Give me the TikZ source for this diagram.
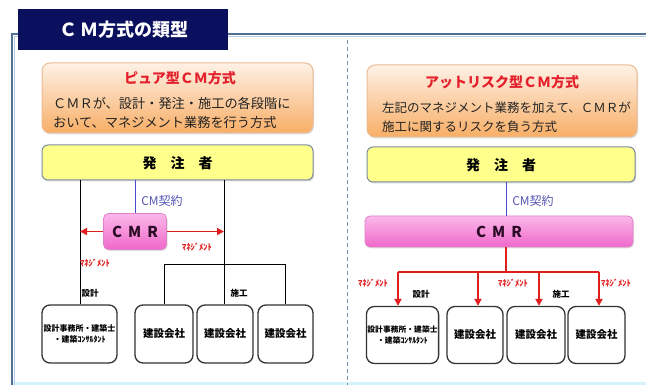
\documentclass[tikz,border=0pt]{standalone}
\usepackage{fontspec}
\setmainfont{Noto Sans CJK JP}
\usetikzlibrary{arrows.meta,shadows}
\definecolor{navy}{HTML}{0A0F5E}
\definecolor{framec}{HTML}{4F6F95}
\definecolor{framel}{HTML}{B8CDE3}
\definecolor{orgtop}{HTML}{FEF1E6}
\definecolor{orgbot}{HTML}{F8AE66}
\definecolor{orgdraw}{HTML}{E9BC94}
\definecolor{ttlred}{HTML}{E3202C}
\definecolor{yel}{HTML}{FFFF8C}
\definecolor{yeldraw}{HTML}{7D8C9C}
\definecolor{pinktop}{HTML}{FBB8EA}
\definecolor{pinkbot}{HTML}{F068CA}
\definecolor{pinkdraw}{HTML}{E080C8}
\definecolor{mred}{HTML}{E01E1E}
\definecolor{mblue}{HTML}{4848D0}
\definecolor{cmtext}{HTML}{5555B5}
\definecolor{bodytxt}{HTML}{222222}
\definecolor{cmrtxt}{HTML}{2A0A25}
\definecolor{cyanline}{HTML}{D6F2FA}
\definecolor{divc}{HTML}{7A90B0}
\tikzset{
  orangebox/.style={draw=orgdraw, line width=1pt, rounded corners=8pt, top color=orgtop, bottom color=orgbot,
    drop shadow={opacity=0.25, shadow xshift=1pt, shadow yshift=-1.5pt}},
  yelbox/.style={draw=yeldraw, line width=1pt, rounded corners=6pt, fill=yel,
    drop shadow={opacity=0.3, shadow xshift=1pt, shadow yshift=-1.5pt}},
  cmrbox/.style={draw=pinkdraw, line width=0.8pt, rounded corners=5pt, top color=pinktop, bottom color=pinkbot,
    drop shadow={opacity=0.25, shadow xshift=1pt, shadow yshift=-1.5pt}},
  whitebox/.style={draw=black!80, line width=1.3pt, rounded corners=8pt, fill=white, inner sep=1pt, align=center},
  ttl/.style={text=ttlred, font=\fontsize{14}{14}\selectfont\bfseries},
  body/.style={text=bodytxt, anchor=west, inner sep=0pt},
  mgmt/.style={text=mred, font=\fontsize{8.5}{8.5}\selectfont\bfseries, inner sep=0pt},
  lbl/.style={text=black, font=\fontsize{8.5}{8.5}\selectfont\bfseries, inner sep=0pt},
  blk/.style={draw=black, line width=0.9pt},
  bluel/.style={draw=mblue, line width=1pt},
  redl/.style={draw=mred, line width=1.8pt},
  reda/.style={draw=mred, line width=1.8pt, -{Triangle[width=7pt,length=7pt]}},
}
\begin{document}
\begin{tikzpicture}[x=1pt,y=-1pt]
\useasboundingbox (0,0) rectangle (646,387);
\fill[white] (0,0) rectangle (646,387);
% frame
\draw[cyanline, line width=3pt] (12,384) -- (646,384);
\draw[framel, line width=1pt] (14.5,385) -- (14.5,36.5) -- (646,36.5);
\draw[framec, line width=2pt] (12,385) -- (12,34) -- (646,34);
\draw[divc, line width=0.8pt, dash pattern=on 4pt off 3pt] (347,40) -- (347,385);
% title
\node[fill=navy, minimum width=210pt, minimum height=41pt, inner sep=0pt] (title) at (123,29.5) {};
\node[text=white, font=\fontsize{18}{18}\selectfont\bfseries] (titletxt) at (124,30) {Ｃ\,Ｍ方式の類型};

% ===== left: pure CM =====
\node[orangebox, minimum width=271pt, minimum height=70pt] (pob) at (177.5,98) {};
\node[ttl] (pot) at (180,78) {ピュア型ＣＭ方式};
\node[body, font=\fontsize{13.2}{13.2}\selectfont] (pol1) at (53,103) {ＣＭＲが、設計・発注・施工の各段階に};
\node[body, font=\fontsize{13.2}{13.2}\selectfont] (pol2) at (53,122) {おいて、マネジメント業務を行う方式};

\node[yelbox, minimum width=271pt, minimum height=35pt] (yl) at (177.5,162.5) {};
\node[font=\fontsize{14}{14}\selectfont\bfseries] (ylt) at (177.5,163) {発　注　者};

\node[cmrbox, minimum width=63pt, minimum height=36pt] (cl) at (135,231.5) {};
\node[text=cmrtxt, font=\fontsize{15}{15}\selectfont\bfseries] (clt) at (135,232) {C\hspace{6pt}M\hspace{6pt}R};

\node[whitebox, minimum width=75pt, minimum height=58pt, font=\fontsize{8}{11}\selectfont\bfseries] (ld) at (79.5,334) {設計事務所・建築士\\・建築ｺﾝｻﾙﾀﾝﾄ};
\node[whitebox, minimum width=58pt, minimum height=58pt, font=\fontsize{10.5}{10.5}\selectfont\bfseries] (lc1) at (164,334) {建設会社};
\node[whitebox, minimum width=56pt, minimum height=58pt, font=\fontsize{10.5}{10.5}\selectfont\bfseries] (lc2) at (225,334) {建設会社};
\node[whitebox, minimum width=55pt, minimum height=58pt, font=\fontsize{10.5}{10.5}\selectfont\bfseries] (lc3) at (285.5,334) {建設会社};

\coordinate (la) at (80,180);
\coordinate (lb) at (224,180);
\coordinate (lbr) at (224,264);
\draw[blk] (yl.south -| la) -- (ld.north -| la);
\draw[blk] (yl.south -| lb) -- (lc2.north -| lb);
\draw[blk] (lc1.north) -- (lc1.north |- lbr) -- (lc3.north |- lbr) -- (lc3.north);
\draw[bluel] (yl.south -| cl.north) -- (cl.north);
\node[text=cmtext, font=\fontsize{12}{12}\selectfont, inner sep=0pt] (lcm) at (162,201) {CM契約};
\draw[reda] (cl.west) -- (cl.west -| la);
\draw[reda] (cl.east) -- (cl.east -| lb);
\node[mgmt] (lm1) at (197,247) {ﾏﾈｼﾞﾒﾝﾄ};
\node[mgmt] (lm2) at (95,263) {ﾏﾈｼﾞﾒﾝﾄ};
\node[lbl] (ls) at (90,293) {設計};
\node[lbl] (lk) at (239,293) {施工};

% ===== right: at-risk CM =====
\node[orangebox, minimum width=270pt, minimum height=72pt] (rob) at (502,101) {};
\node[ttl] (rot) at (502,82) {アットリスク型ＣＭ方式};
\node[body, font=\fontsize{12.5}{12.5}\selectfont] (rol1) at (382,108) {左記のマネジメント業務を加えて、ＣＭＲが};
\node[body, font=\fontsize{12.5}{12.5}\selectfont] (rol2) at (382,127) {施工に関するリスクを負う方式};

\node[yelbox, minimum width=268pt, minimum height=35pt] (yr) at (501,164.5) {};
\node[font=\fontsize{14}{14}\selectfont\bfseries] (yrt) at (501,165) {発　注　者};

\node[cmrbox, minimum width=268pt, minimum height=31pt] (cr) at (499,231.5) {};
\node[text=cmrtxt, font=\fontsize{15}{15}\selectfont\bfseries] (crt) at (499,232) {C\hspace{6pt}M\hspace{6pt}R};

\node[whitebox, minimum width=71pt, minimum height=57pt, font=\fontsize{7.8}{11}\selectfont\bfseries] (rd) at (402.5,335) {設計事務所・建築士\\・建築ｺﾝｻﾙﾀﾝﾄ};
\node[whitebox, minimum width=56pt, minimum height=57pt, font=\fontsize{10.5}{10.5}\selectfont\bfseries] (rc1) at (475,335) {建設会社};
\node[whitebox, minimum width=58pt, minimum height=57pt, font=\fontsize{10.5}{10.5}\selectfont\bfseries] (rc2) at (536,335) {建設会社};
\node[whitebox, minimum width=57pt, minimum height=57pt, font=\fontsize{10.5}{10.5}\selectfont\bfseries] (rc3) at (596.5,335) {建設会社};

\coordinate (rcm) at (506,180);
\coordinate (rbr) at (506,272);
\coordinate (ra1) at (398,272);
\coordinate (ra2) at (478,272);
\coordinate (ra3) at (539,272);
\coordinate (ra4) at (599,272);
\draw[bluel] (yr.south -| rcm) -- (cr.north -| rcm);
\node[text=cmtext, font=\fontsize{12}{12}\selectfont, inner sep=0pt] (rcmt) at (533,201) {CM契約};
\draw[redl] (cr.south -| rcm) -- (rbr);
\draw[redl] (ra1) -- (ra4);
\draw[reda] (ra1) -- (rd.north -| ra1);
\draw[reda] (ra2) -- (rc1.north -| ra2);
\draw[reda] (ra3) -- (rc2.north -| ra3);
\draw[reda] (ra4) -- (rc3.north -| ra4);
\node[mgmt] (rm1) at (373,283) {ﾏﾈｼﾞﾒﾝﾄ};
\node[mgmt] (rm2) at (513,283) {ﾏﾈｼﾞﾒﾝﾄ};
\node[mgmt] (rm3) at (616,283) {ﾏﾈｼﾞﾒﾝﾄ};
\node[lbl] (rs) at (421,294) {設計};
\node[lbl] (rk) at (561,294) {施工};
\end{tikzpicture}
\end{document}
